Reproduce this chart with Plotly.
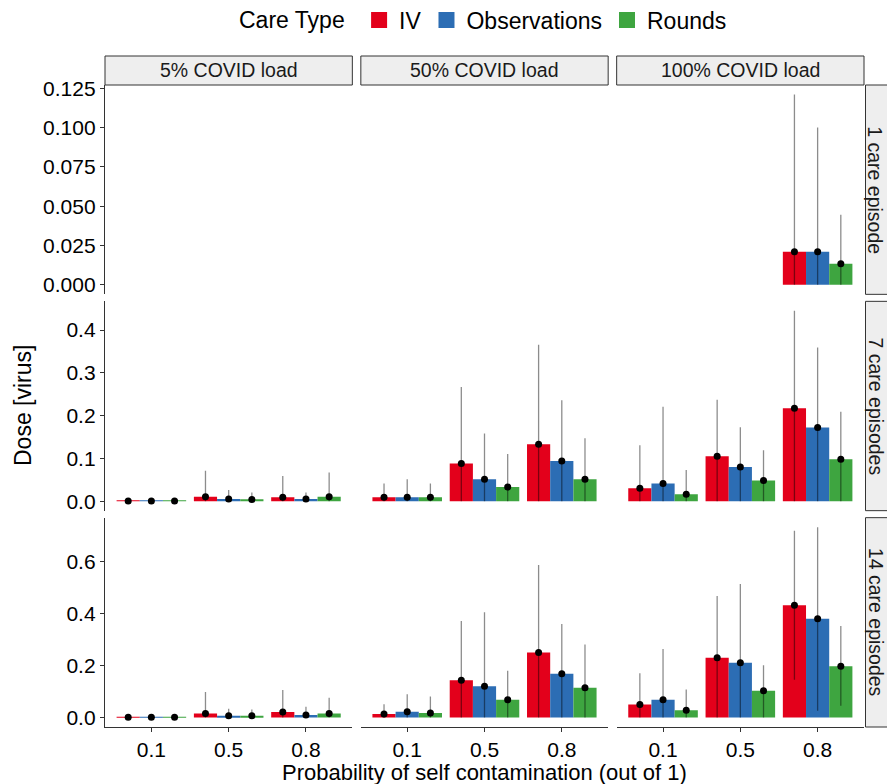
import plotly.graph_objects as go

# ---------------- data ----------------
probs = ['0.1', '0.5', '0.8']
loads = ['5% COVID load', '50% COVID load', '100% COVID load']
episodes = ['1 care episode', '7 care episodes', '14 care episodes']
care_types = ['IV', 'Observations', 'Rounds']
colors = ['#E3001B', '#2C6DB4', '#3EA540']

# values listed load-major (5%, 50%, 100%), prob-minor (0.1, 0.5, 0.8)
# --- 1 care episode ---
mean_ep1_iv = [None, None, None, None, None, None, None, None, 0.021]
upper_ep1_iv = [None, None, None, None, None, None, None, None, 0.121]
lower_ep1_iv = [None, None, None, None, None, None, None, None, 0.0]
mean_ep1_obs = [None, None, None, None, None, None, None, None, 0.021]
upper_ep1_obs = [None, None, None, None, None, None, None, None, 0.100]
lower_ep1_obs = [None, None, None, None, None, None, None, None, 0.0]
mean_ep1_rnd = [None, None, None, None, None, None, None, None, 0.0134]
upper_ep1_rnd = [None, None, None, None, None, None, None, None, 0.0446]
lower_ep1_rnd = [None, None, None, None, None, None, None, None, 0.0]

# --- 7 care episodes ---
mean_ep7_iv = [0.0005, 0.010, 0.009, 0.009, 0.088, 0.133, 0.030, 0.105, 0.217]
upper_ep7_iv = [0.0005, 0.071, 0.059, 0.041, 0.267, 0.366, 0.131, 0.237, 0.445]
lower_ep7_iv = [0, 0, 0, 0, 0, 0, 0, 0, 0]
mean_ep7_obs = [0.0005, 0.005, 0.005, 0.009, 0.051, 0.094, 0.041, 0.080, 0.172]
upper_ep7_obs = [0.0005, 0.026, 0.020, 0.051, 0.158, 0.236, 0.221, 0.173, 0.359]
lower_ep7_obs = [0, 0, 0, 0, 0, 0, 0, 0, 0]
mean_ep7_rnd = [0.0005, 0.004, 0.010, 0.009, 0.033, 0.051, 0.016, 0.048, 0.098]
upper_ep7_rnd = [0.0005, 0.020, 0.067, 0.041, 0.110, 0.147, 0.073, 0.119, 0.209]
lower_ep7_rnd = [0, 0, 0, 0, 0, 0, 0, 0, 0]

# --- 14 care episodes ---
mean_ep14_iv = [0.0005, 0.0155, 0.021, 0.013, 0.143, 0.250, 0.050, 0.230, 0.432]
upper_ep14_iv = [0.0005, 0.098, 0.106, 0.051, 0.371, 0.587, 0.170, 0.467, 0.718]
lower_ep14_iv = [0, 0, 0, 0, 0, 0, 0, 0, 0.145]
mean_ep14_obs = [0.0005, 0.0066, 0.010, 0.022, 0.120, 0.168, 0.068, 0.211, 0.380]
upper_ep14_obs = [0.0005, 0.034, 0.041, 0.089, 0.405, 0.360, 0.263, 0.513, 0.732]
lower_ep14_obs = [0, 0, 0, 0, 0, 0, 0, 0, 0.026]
mean_ep14_rnd = [0.0005, 0.0066, 0.0155, 0.017, 0.068, 0.114, 0.028, 0.103, 0.197]
upper_ep14_rnd = [0.0005, 0.031, 0.076, 0.081, 0.180, 0.281, 0.108, 0.201, 0.352]
lower_ep14_rnd = [0, 0, 0, 0, 0, 0, 0, 0, 0.045]

y_ticks_ep1 = [0.0, 0.025, 0.05, 0.075, 0.1, 0.125]
y_ticks_ep7 = [0.0, 0.1, 0.2, 0.3, 0.4]
y_ticks_ep14 = [0.0, 0.2, 0.4, 0.6]
y_formats = ['.3f', '.1f', '.1f']

rows = [
    [(mean_ep1_iv, upper_ep1_iv, lower_ep1_iv), (mean_ep1_obs, upper_ep1_obs, lower_ep1_obs),
     (mean_ep1_rnd, upper_ep1_rnd, lower_ep1_rnd)],
    [(mean_ep7_iv, upper_ep7_iv, lower_ep7_iv), (mean_ep7_obs, upper_ep7_obs, lower_ep7_obs),
     (mean_ep7_rnd, upper_ep7_rnd, lower_ep7_rnd)],
    [(mean_ep14_iv, upper_ep14_iv, lower_ep14_iv), (mean_ep14_obs, upper_ep14_obs, lower_ep14_obs),
     (mean_ep14_rnd, upper_ep14_rnd, lower_ep14_rnd)],
]
row_ticks = [y_ticks_ep1, y_ticks_ep7, y_ticks_ep14]

# ---------------- layout geometry ----------------
W, H = 887, 784
ML, MR, MT, MB = 105, 23, 85, 57
PW = W - ML - MR
PH = H - MT - MB
gap_x, gap_y = 8.5, 7
pw = (PW - 2 * gap_x) / 3
ph = (PH - 2 * gap_y) / 3
FONT = 'Liberation Sans, Arial, sans-serif'
BAR_W = 0.3
TICK_SIZE = 21
TITLE_SIZE = 22
LEGEND_SIZE = 23
STRIP_SIZE = 19.5


def clamp(v):
    return min(1.0, max(0.0, round(v, 6)))


def xdom(c):
    a = c * (pw + gap_x)
    return [clamp(a / PW), clamp((a + pw) / PW)]


def ydom(r):
    top = PH - r * (ph + gap_y)
    return [clamp((top - ph) / PH), clamp(top / PH)]


fig = go.Figure()
layout = {}
shapes = []
annotations = []

for r in range(3):
    row_max = max(v for (_, up, _) in rows[r] for v in up if v is not None)
    yr = [-0.05 * row_max, 1.05 * row_max]
    for c in range(3):
        k = r * 3 + c + 1
        xa = 'x' if k == 1 else f'x{k}'
        ya = 'y' if k == 1 else f'y{k}'
        # bars
        for j, (mean, up, lo) in enumerate(rows[r]):
            xs, ys = [], []
            for i in range(3):
                v = mean[c * 3 + i]
                if v is None:
                    continue
                xs.append(i + (j - 1) * BAR_W)
                ys.append(v)
            if xs:
                fig.add_trace(go.Bar(x=xs, y=ys, width=BAR_W, marker=dict(color=colors[j], line=dict(width=0)),
                                     xaxis=xa, yaxis=ya, showlegend=False, hoverinfo='skip'))
        # points + error bars
        for j, (mean, up, lo) in enumerate(rows[r]):
            xs, ys, ep, em = [], [], [], []
            for i in range(3):
                v = mean[c * 3 + i]
                if v is None:
                    continue
                xs.append(i + (j - 1) * BAR_W)
                ys.append(v)
                ep.append(up[c * 3 + i] - v)
                em.append(v - lo[c * 3 + i])
            if xs:
                fig.add_trace(go.Scatter(x=xs, y=ys, mode='markers',
                                         marker=dict(color='black', size=7),
                                         error_y=dict(type='data', symmetric=False, array=ep, arrayminus=em,
                                                      color='rgba(0,0,0,0.45)', thickness=1.3, width=0),
                                         xaxis=xa, yaxis=ya, showlegend=False, hoverinfo='skip'))
        bottom = (r == 2)
        left = (c == 0)
        layout['xaxis' if k == 1 else f'xaxis{k}'] = dict(
            domain=xdom(c), anchor=ya, range=[-0.6, 2.6], tickvals=[0, 1, 2], ticktext=probs,
            showticklabels=bottom, ticks='outside' if bottom else '', ticklen=4, tickwidth=1,
            tickcolor='#333333', showline=bottom, linecolor='#333333', linewidth=1.3,
            showgrid=False, zeroline=False, fixedrange=True, automargin=False,
            tickfont=dict(family=FONT, size=TICK_SIZE, color='black'))
        layout['yaxis' if k == 1 else f'yaxis{k}'] = dict(
            domain=ydom(r), anchor=xa, range=yr, tickvals=row_ticks[r], tickformat=y_formats[r],
            showticklabels=left, ticks='outside' if left else '', ticklen=4, tickwidth=1,
            tickcolor='#333333', showline=left, linecolor='#333333', linewidth=1.3,
            showgrid=False, zeroline=False, fixedrange=True, automargin=False,
            tickfont=dict(family=FONT, size=TICK_SIZE, color='black'))

# strips on top
for c in range(3):
    d = xdom(c)
    shapes.append(dict(type='rect', xref='paper', yref='paper', x0=d[0], x1=d[1], y0=1.0,
                       y1=1 + 29 / PH, fillcolor='#EEEEEE', line=dict(color='#333333', width=1)))
    annotations.append(dict(text=loads[c], xref='paper', yref='paper', x=(d[0] + d[1]) / 2,
                            y=1 + 14.5 / PH, showarrow=False, xanchor='center', yanchor='middle',
                            font=dict(family=FONT, size=STRIP_SIZE, color='#1a1a1a')))
# strips on right
for r in range(3):
    d = ydom(r)
    shapes.append(dict(type='rect', xref='paper', yref='paper', x0=1 + 1.5 / PW, x1=1 + 40 / PW,
                       y0=d[0], y1=d[1], fillcolor='#EEEEEE', line=dict(color='#333333', width=1)))
    annotations.append(dict(text=episodes[r], xref='paper', yref='paper', x=1 + 11.5 / PW,
                            y=(d[0] + d[1]) / 2, showarrow=False, textangle=90,
                            xanchor='center', yanchor='middle',
                            font=dict(family=FONT, size=STRIP_SIZE, color='#1a1a1a')))

# axis titles
annotations.append(dict(text='Dose [virus]', xref='paper', yref='paper', x=(23 - ML) / PW, y=0.5,
                        showarrow=False, textangle=-90, xanchor='center', yanchor='middle',
                        font=dict(family=FONT, size=TITLE_SIZE + 1, color='black')))
annotations.append(dict(text='Probability of self contamination (out of 1)', xref='paper', yref='paper',
                        x=0.5, y=-(773 - (H - MB)) / PH, showarrow=False, xanchor='center',
                        yanchor='middle', font=dict(family=FONT, size=TITLE_SIZE, color='black')))

# legend entries
for j, name in enumerate(care_types):
    fig.add_trace(go.Scatter(x=[None], y=[None], mode='markers', name=name,
                             marker=dict(symbol='square', size=20, color=colors[j]),
                             showlegend=True, hoverinfo='skip'))

fig.update_layout(
    **layout,
    width=W, height=H,
    margin=dict(l=ML, r=MR, t=MT, b=MB, autoexpand=False),
    paper_bgcolor='white', plot_bgcolor='white',
    barmode='overlay',
    shapes=shapes, annotations=annotations,
    showlegend=True,
    legend=dict(orientation='h', x=0.5, xanchor='center', y=1 + (MT - 20) / PH, yanchor='middle',
                title=dict(text='Care Type ', font=dict(family=FONT, size=LEGEND_SIZE, color='black')),
                font=dict(family=FONT, size=LEGEND_SIZE, color='black'), itemwidth=30, tracegroupgap=0),
    font=dict(family=FONT),
)

fig.write_html('out.html', config={'displayModeBar': False},
               post_script="document.body.style.margin='0';document.body.style.overflow='hidden';")
